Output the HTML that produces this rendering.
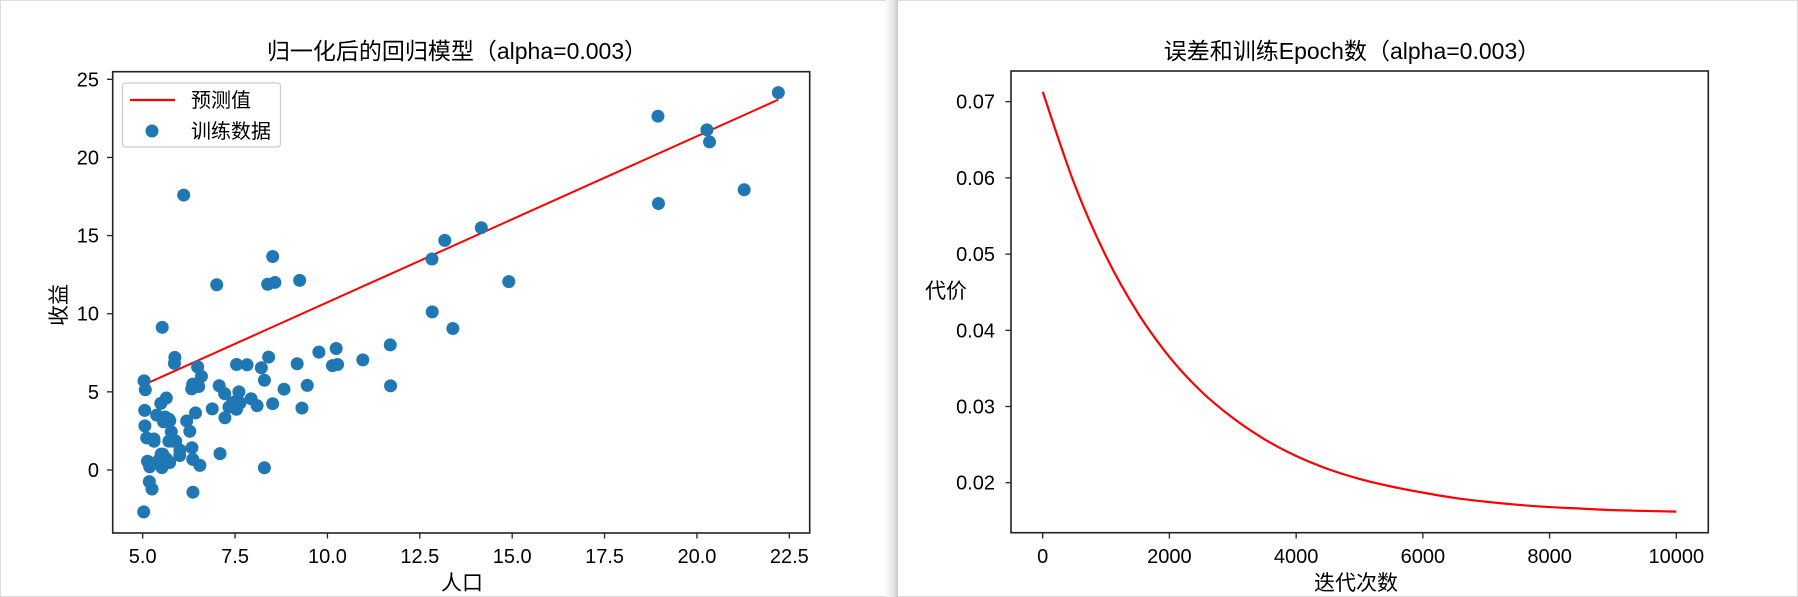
<!DOCTYPE html>
<html><head><meta charset="utf-8">
<style>
html,body{margin:0;padding:0;background:#fff;}
svg{display:block;font-family:"Liberation Sans","Noto Sans CJK SC",sans-serif;}
</style></head>
<body>
<svg id="root" width="1798" height="597" viewBox="0 0 1798 597" xmlns="http://www.w3.org/2000/svg">
  <rect x="0" y="0" width="1798" height="597" fill="#fff"/>
  <rect x="0.5" y="0.5" width="1797" height="596" fill="none" stroke="#ddd"/>
  <defs><linearGradient id="sh" x1="0" x2="1"><stop offset="0" stop-color="#fafafa"/><stop offset="0.6" stop-color="#e6e6e6"/><stop offset="1" stop-color="#c8c8c8"/></linearGradient></defs>
  <rect x="886" y="0" width="12" height="597" fill="url(#sh)"/>
  <g id="left"></g>
  <g id="right"></g>
</svg>
<script>
// ---- left chart data ----
const populationX = [6.1101,5.5277,8.5186,7.0032,5.8598,8.3829,7.4764,8.5781,6.4862,5.0546,5.7107,14.164,5.734,8.4084,5.6407,5.3794,6.3654,5.1301,6.4296,7.0708,6.1891,20.27,5.4901,6.3261,5.5649,18.945,12.828,10.957,13.176,22.203,5.2524,6.5894,9.2482,5.8918,8.2111,7.9334,8.0959,5.6063,12.836,6.3534,5.4069,6.8825,11.708,5.7737,7.8247,7.0931,5.0702,5.8014,11.7,5.5416,7.5402,5.3077,7.4239,7.6031,6.3328,6.3589,6.2742,5.6397,9.3102,9.4536,8.8254,5.1793,21.279,14.908,18.959,7.2182,8.2951,10.236,5.4994,20.341,10.136,7.3345,6.0062,7.2259,5.0269,6.5479,7.5386,5.0365,10.274,5.1077,5.7292,5.1884,6.3557,9.7687,6.5159,8.5172,9.1802,6.002,5.5204,5.0594,5.7077,7.6366,5.8707,5.3054,8.2934,13.394,5.4369];
const profitY = [17.592,9.1302,13.662,11.854,6.8233,11.886,4.3483,12,6.5987,3.8166,3.2522,15.505,3.1551,7.2258,0.71618,3.5129,5.3048,0.56077,3.6518,5.3893,3.1386,21.767,4.263,5.1875,3.0825,22.638,13.501,7.0467,14.692,24.147,-1.22,5.9966,12.134,1.8495,6.5426,4.5623,4.1164,3.3928,10.117,5.4974,0.55657,3.9115,5.3854,2.4406,6.7318,1.0463,5.1337,1.844,8.0043,1.0179,6.7504,1.8396,4.2885,4.9981,1.4233,-1.4211,2.4756,4.6042,3.9624,5.4141,5.1694,-0.74279,17.929,12.054,17.054,4.8852,5.7442,7.7754,1.0173,20.992,6.6799,4.0259,1.2784,3.3411,-2.6807,0.29678,3.8845,5.7014,6.7526,2.0576,0.47953,0.20421,0.67861,7.5435,5.3436,4.2415,6.7981,0.92695,0.152,2.8214,1.8451,4.2959,7.2029,1.9869,0.14454,9.0551,0.61705];
const lineTheta = [0.105, 1.0626];
const leftXTicks = [5.0,7.5,10.0,12.5,15.0,17.5,20.0,22.5];
const leftXTickLabels = ["5.0","7.5","10.0","12.5","15.0","17.5","20.0","22.5"];
const leftYTicks = [0,5,10,15,20,25];
const leftYTickLabels = ["0","5","10","15","20","25"];
// ---- right chart data ----
const iterations = [0,500,1000,1500,2000,2500,3000,3500,4000,4500,5000,5500,6000,6500,7000,7500,8000,8500,9000,9500,10000];
const costValues = [0.0713,0.0592,0.0497,0.0423,0.0365,0.0320,0.0285,0.0257,0.0235,0.0218,0.0205,0.0195,0.0187,0.0180,0.0175,0.0171,0.0168,0.0166,0.0164,0.0163,0.0162];
const rightXTicks = [0,2000,4000,6000,8000,10000];
const rightXTickLabels = ["0","2000","4000","6000","8000","10000"];
const rightYTicks = [0.02,0.03,0.04,0.05,0.06,0.07];
const rightYTickLabels = ["0.02","0.03","0.04","0.05","0.06","0.07"];

const NS="http://www.w3.org/2000/svg";
function mk(parent,tag,attrs,text){const e=document.createElementNS(NS,tag);for(const k in attrs)e.setAttribute(k,attrs[k]);if(text!==undefined)e.textContent=text;parent.appendChild(e);return e;}

// left axes
const L=document.getElementById('left');
const lx=v=>142.7+(v-5)*(646.6/17.5);
const ly=v=>470-v*(390.7/25);
let x0=Math.min(...populationX), x1=Math.max(...populationX);
let ln=mk(L,'line',{x1:lx(x0),y1:ly(lineTheta[0]+lineTheta[1]*x0),x2:lx(x1),y2:ly(lineTheta[0]+lineTheta[1]*x1),stroke:'#ff0000','stroke-width':2});


for(let i=0;i<populationX.length;i++){
  const c=mk(L,'circle',{cx:lx(populationX[i]),cy:ly(profitY[i]),r:6.5,fill:'#1f77b4'});
  
  
}
mk(L,'rect',{x:112.7,y:71.7,width:697,height:461.3,fill:'none',stroke:'#222','stroke-width':1.6});
leftXTicks.forEach((t,i)=>{
  mk(L,'line',{x1:lx(t),x2:lx(t),y1:533,y2:538.5,stroke:'#222','stroke-width':1.3});
  const e=mk(L,'text',{x:lx(t),y:563,'font-size':20,'text-anchor':'middle',fill:'#000'},leftXTickLabels[i]);
  
  
});
leftYTicks.forEach((t,i)=>{
  mk(L,'line',{x1:107,x2:112.7,y1:ly(t),y2:ly(t),stroke:'#222','stroke-width':1.3});
  const e=mk(L,'text',{x:99,y:ly(t)+7,'font-size':20,'text-anchor':'end',fill:'#000'},leftYTickLabels[i]);
  
  
});
let t=mk(L,'text',{x:457,y:59,'font-size':23,'text-anchor':'middle'},'归一化后的回归模型（alpha=0.003）');

t=mk(L,'text',{x:462,y:590,'font-size':21,'text-anchor':'middle'},'人口');

t=mk(L,'text',{x:0,y:0,'font-size':21,'text-anchor':'middle',transform:'translate(66,305) rotate(-90)'},'收益');

const lg=mk(L,'g',{});

mk(lg,'rect',{x:122.5,y:83,width:158,height:64,rx:3,fill:'#fff',stroke:'#ccc','stroke-width':1.2});
mk(lg,'line',{x1:130,x2:175,y1:100,y2:100,stroke:'#ff0000','stroke-width':2.2});
mk(lg,'text',{x:191,y:107,'font-size':20},'预测值');
mk(lg,'circle',{cx:152,cy:131,r:6.5,fill:'#1f77b4'});
mk(lg,'text',{x:191,y:138,'font-size':20},'训练数据');

// right axes
const R=document.getElementById('right');
const rx=v=>1042.7+v*(633.6/10000);
const ry=v=>482.7-(v-0.02)*(381/0.05);
const pts=iterations.map((it,i)=>[rx(it),ry(costValues[i])]);
let d='M'+pts[0][0].toFixed(2)+','+pts[0][1].toFixed(2);
for(let i=0;i<pts.length-1;i++){
  const p0=pts[Math.max(i-1,0)],p1=pts[i],p2=pts[i+1],p3=pts[Math.min(i+2,pts.length-1)];
  const c1=[p1[0]+(p2[0]-p0[0])/6,p1[1]+(p2[1]-p0[1])/6];
  const c2=[p2[0]-(p3[0]-p1[0])/6,p2[1]-(p3[1]-p1[1])/6];
  d+='C'+c1.map(v=>v.toFixed(2)).join(',')+' '+c2.map(v=>v.toFixed(2)).join(',')+' '+p2.map(v=>v.toFixed(2)).join(',');
}
const p=mk(R,'path',{d:d,fill:'none',stroke:'#ff0000','stroke-width':2.2,'stroke-linejoin':'round'});


mk(R,'rect',{x:1011,y:71,width:697.3,height:461.7,fill:'none',stroke:'#222','stroke-width':1.6});
rightXTicks.forEach((v,i)=>{
  mk(R,'line',{x1:rx(v),x2:rx(v),y1:532.7,y2:538.5,stroke:'#222','stroke-width':1.3});
  const e=mk(R,'text',{x:rx(v),y:563,'font-size':20,'text-anchor':'middle'},rightXTickLabels[i]);
  
  
});
rightYTicks.forEach((v,i)=>{
  mk(R,'line',{x1:1005.5,x2:1011,y1:ry(v),y2:ry(v),stroke:'#222','stroke-width':1.3});
  const e=mk(R,'text',{x:995,y:ry(v)+7,'font-size':20,'text-anchor':'end'},rightYTickLabels[i]);
  
  
});
t=mk(R,'text',{x:1352,y:59,'font-size':23,'text-anchor':'middle'},'误差和训练Epoch数（alpha=0.003）');

t=mk(R,'text',{x:1356,y:590,'font-size':21,'text-anchor':'middle'},'迭代次数');

t=mk(R,'text',{x:946,y:298,'font-size':21,'text-anchor':'middle'},'代价');

</script>
</body></html>
